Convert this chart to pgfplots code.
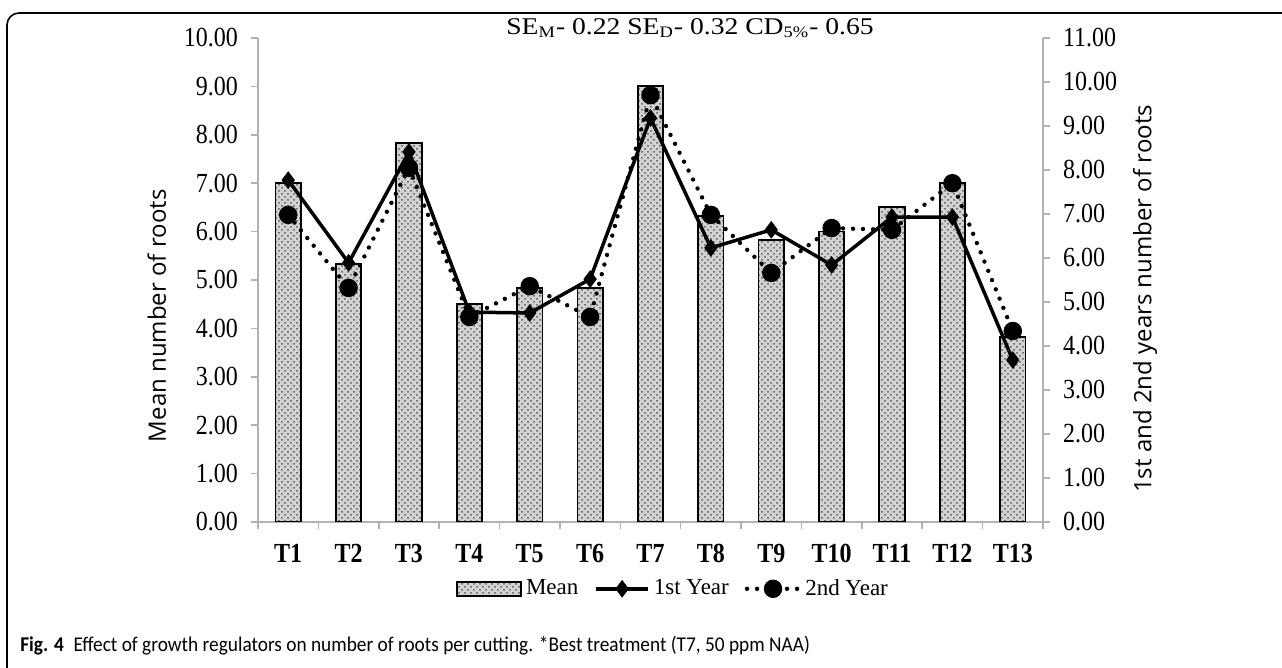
\documentclass[border=0pt]{standalone}
\usepackage{fontspec}
\setmainfont{Liberation Serif}
\newfontfamily\capfont{Carlito}
\newfontfamily\labfont{Open Sans}
\usepackage{pgfplots}
\pgfplotsset{compat=1.18}
\usetikzlibrary{patterns}

\begin{document}
\begin{tikzpicture}
\useasboundingbox (0pt,0pt) rectangle (641pt,334pt);
\clip (0pt,0pt) rectangle (641pt,334pt);
\draw[line width=0.8pt, rounded corners=6pt] (3.5pt,-10pt) -- (3.5pt,327.5pt) -- (660pt,327.5pt);

\pgfplotsset{
  common/.style={
    at={(129pt,73pt)}, anchor=south west,
    scale only axis, width=392.5pt, height=242pt,
    xmin=0.5, xmax=13.5,
    axis line style={-, gray!60, line width=0.8pt},
    every tick/.style={gray!60, line width=0.8pt},
    tick align=outside, major tick length=3.5pt, minor tick length=3.5pt,
    tick label style={font=\fontsize{12}{14}\selectfont, yscale=1.15},
    yticklabel style={/pgf/number format/fixed, /pgf/number format/fixed zerofill,
      /pgf/number format/precision=2, /pgf/number format/assume math mode=true},
    ylabel style={font=\labfont\fontsize{12}{15}\selectfont, anchor=center},
  },
  linelegend/.style={legend image code/.code={
    \draw[mark repeat=2,mark phase=2,##1] plot coordinates {(0pt,0pt) (13pt,0pt) (26pt,0pt)};}},
  barlegend/.style={legend image code/.code={
    \draw[##1] (0pt,-3.5pt) rectangle (32pt,3.5pt);}},
}

\begin{axis}[common,
  ymin=0, ymax=10,
  axis y line*=left, axis x line*=bottom,
  ytick={0,1,...,10},
  yticklabel style={xshift=-3pt},
  xtick={1,...,13},
  xticklabels={T1,T2,T3,T4,T5,T6,T7,T8,T9,T10,T11,T12,T13},
  xticklabel style={font=\fontsize{12}{14}\selectfont\bfseries, text height=8.5pt, text depth=0pt, yshift=-2.5pt},
  major x tick style={draw=none},
  minor xtick={0.5,1.5,...,13.5},
  ylabel={Mean number of roots},
  ylabel style={at={(axis description cs:-0.129,0.426)}},
]
\addplot[ybar, bar width=0.42, draw=black, line width=0.9pt, fill=gray!35,
  postaction={pattern=crosshatch dots, pattern color=black!65}]
  coordinates {(1,7.00) (2,5.33) (3,7.83) (4,4.50) (5,4.83) (6,4.83) (7,9.00)
               (8,6.33) (9,5.83) (10,6.00) (11,6.50) (12,7.00) (13,3.83)};
\end{axis}

\begin{axis}[common,
  ymin=0, ymax=11,
  axis y line*=right, axis x line=none,
  ytick={0,1,...,11},
  yticklabel style={xshift=3pt},
  ylabel={1st and 2nd years number of roots},
  ylabel style={at={(axis description cs:1.130,0.461)}},
  legend columns=3,
  legend style={draw=none, fill=none, at={(0.53,-0.138)}, anchor=center,
    font=\fontsize{11.5}{14}\selectfont,
    /tikz/every even column/.append style={column sep=6pt}},
]
\addlegendimage{barlegend, draw=black, line width=0.9pt, fill=gray!35,
  postaction={pattern=crosshatch dots, pattern color=black!65}}
\addlegendentry{Mean}
\addplot[black, line width=1.75pt, mark=diamond*, mark size=3pt, linelegend]
  coordinates {(1,7.77) (2,5.89) (3,8.41) (4,4.77) (5,4.75) (6,5.52) (7,9.18)
               (8,6.23) (9,6.64) (10,5.84) (11,6.93) (12,6.93) (13,3.68)};
\addlegendentry{1st Year}
\addplot[black, line width=2.2pt, dash pattern=on 0pt off 5pt, line cap=round,
  mark=*, mark size=3.5pt, mark options={solid}, linelegend]
  coordinates {(1,6.98) (2,5.32) (3,8.05) (4,4.66) (5,5.36) (6,4.66) (7,9.70)
               (8,6.98) (9,5.66) (10,6.68) (11,6.64) (12,7.70) (13,4.34)};
\addlegendentry{2nd Year}
\end{axis}

\node[font=\fontsize{12}{14}\selectfont, xscale=1.15] at (345pt,320pt)
  {SE\textsubscript{M}- 0.22 SE\textsubscript{D}- 0.32 CD\textsubscript{5\%}- 0.65};
\node[anchor=west, font=\capfont\fontsize{10.5}{12}\selectfont, inner sep=0pt, xscale=0.92] at (10pt,11pt)
  {\textbf{Fig. 4}\enspace Effect of growth regulators on number of roots per cutting. *Best treatment (T7, 50 ppm NAA)};
\end{tikzpicture}
\end{document}
